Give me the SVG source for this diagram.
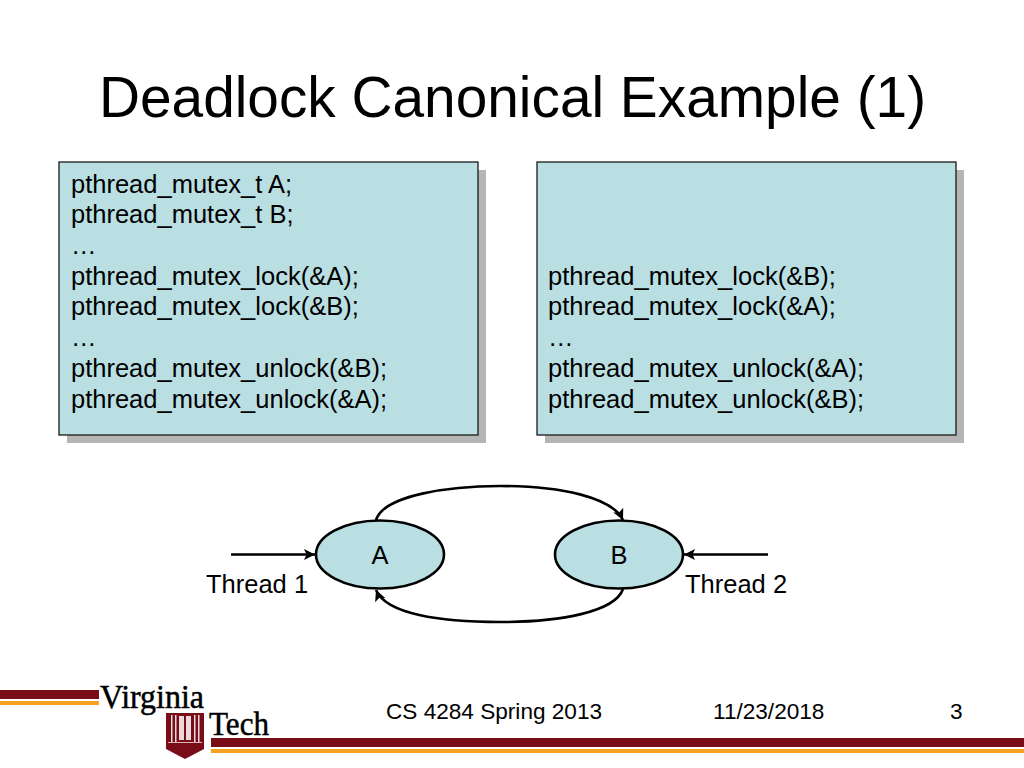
<svg xmlns="http://www.w3.org/2000/svg" width="1024" height="768" viewBox="0 0 1024 768">
<style>
text{font-family:"Liberation Sans",Arial,sans-serif;fill:#000}
.code{font-size:25.500px}
.lbl{font-size:25.500px}
.ctr{text-anchor:middle}
.foot{font-size:22.600px}
.box{fill:#b9dfe3;stroke:#1a1a1a;stroke-width:1.3}
.shadow{fill:#b5b5b5}
.node{fill:#b9dfe3;stroke:#000;stroke-width:2.6}
.edge{fill:none;stroke:#000;stroke-width:2.6}
.logo{font-family:"Liberation Serif",serif;stroke:#000;stroke-width:.5}
</style>
<defs>
<marker id="arrow" markerUnits="userSpaceOnUse" markerWidth="14" markerHeight="12" refX="11" refY="5.500" orient="auto">
<path d="M0 0L11 5.500L0 11L2.500 5.500Z" fill="#000"/>
</marker>
</defs>
<rect width="1024" height="768" fill="#fff"/>
<text id="title" x="512.500" y="117" class="ctr" style="font-size:56.800px">Deadlock Canonical Example (1)</text>
<g id="box1">
<rect class="shadow" x="67" y="170" width="419" height="273"/>
<rect class="box" x="59" y="162" width="419" height="273"/>
<text class="code" x="71" y="192.500">pthread_mutex_t A;</text>
<text class="code" x="71" y="223">pthread_mutex_t B;</text>
<text class="code" x="71" y="254">…</text>
<text class="code" x="71" y="284.500">pthread_mutex_lock(&amp;A);</text>
<text class="code" x="71" y="315">pthread_mutex_lock(&amp;B);</text>
<text class="code" x="71" y="346">…</text>
<text class="code" x="71" y="376.500">pthread_mutex_unlock(&amp;B);</text>
<text class="code" x="71" y="407.500">pthread_mutex_unlock(&amp;A);</text>
</g>
<g id="box2">
<rect class="shadow" x="545" y="170" width="419" height="273"/>
<rect class="box" x="537" y="162" width="419" height="273"/>
<text class="code" x="548" y="284.500">pthread_mutex_lock(&amp;B);</text>
<text class="code" x="548" y="315">pthread_mutex_lock(&amp;A);</text>
<text class="code" x="548" y="346">…</text>
<text class="code" x="548" y="376.500">pthread_mutex_unlock(&amp;A);</text>
<text class="code" x="548" y="407.500">pthread_mutex_unlock(&amp;B);</text>
</g>
<g id="connectors">
<path class="edge" d="M231 554.500H315" marker-end="url(#arrow)"/>
<path class="edge" d="M768 554.500H684" marker-end="url(#arrow)"/>
<path class="edge" d="M376 520C384 495 450 486 500 486C560 486 612 497 623 520" marker-end="url(#arrow)"/>
<path class="edge" d="M623 589C615 612 560 622 500 622C440 622 386 614 376 590" marker-end="url(#arrow)"/>
</g>
<g id="nodeA">
<ellipse class="node" cx="380" cy="554.500" rx="64" ry="34"/>
<text class="lbl ctr" x="380" y="564">A</text>
</g>
<g id="nodeB">
<ellipse class="node" cx="619" cy="554.500" rx="64" ry="34"/>
<text class="lbl ctr" x="619" y="564">B</text>
</g>
<text id="thread1" class="lbl" x="206" y="593">Thread 1</text>
<text id="thread2" class="lbl" x="685" y="593">Thread 2</text>
<g id="footer">
<text class="foot" x="386" y="719">CS 4284 Spring 2013</text>
<text class="foot" x="713" y="719">11/23/2018</text>
<text class="foot" x="950" y="719">3</text>
</g>
<g id="logo">
<rect x="0" y="690" width="99" height="9" fill="#7a0c18"/>
<rect x="0" y="701" width="99" height="4" fill="#f5a21e"/>
<rect x="211" y="738" width="813" height="9" fill="#7a0c18"/>
<rect x="211" y="749" width="813" height="4" fill="#f5a21e"/>
<text class="logo" x="100" y="708" style="font-size:34px" textLength="104" lengthAdjust="spacingAndGlyphs">Virginia</text>
<text class="logo" x="209" y="735" style="font-size:34px" textLength="60" lengthAdjust="spacingAndGlyphs">Tech</text>
<path d="M166 713H204V749L185 759L166 749Z" fill="#7a0c18"/>
<path d="M171 715h1.500v27h-1.500zM175 715h1.500v27h-1.500zM194 715h1.500v27h-1.500zM198 715h1.500v27h-1.500zM179 716h12v24h-12z" fill="#fff" opacity=".85"/>
<path d="M184 716h2v24h-2z" fill="#7a0c18"/>
<path d="M168 742h34v1h-34z" fill="#fff" opacity=".7"/>
</g>
</svg>
